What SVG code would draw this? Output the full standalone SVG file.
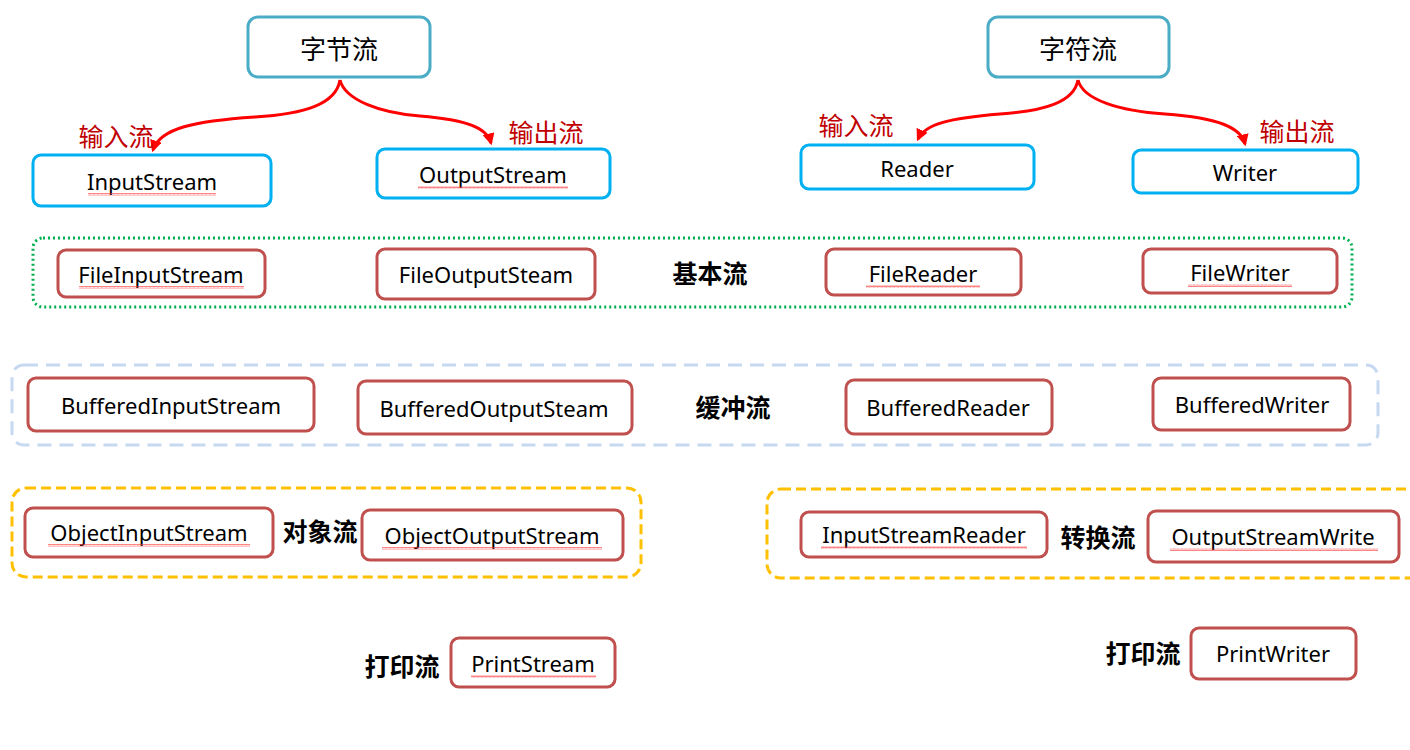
<svg xmlns="http://www.w3.org/2000/svg" width="1410" height="750" viewBox="0 0 1410 750">
<style>
.top{fill:#fff;stroke:#4bacc6;stroke-width:3}
.cls{fill:#fff;stroke:#00b0f0;stroke-width:3}
.sub{fill:#fff;stroke:#c0504d;stroke-width:3}
.t{font-family:"Noto Sans","Noto Sans CJK SC",sans-serif;font-size:22px;fill:#000;text-anchor:middle;dominant-baseline:central}
.th{font-family:"Noto Sans CJK SC","Noto Sans",sans-serif;font-size:26px;fill:#000;text-anchor:middle;dominant-baseline:central}
.lab{font-family:"Noto Sans CJK SC",sans-serif;font-size:25px;fill:#c00000;text-anchor:middle;dominant-baseline:central}
.grp{font-family:"Noto Sans CJK SC",sans-serif;font-size:25px;font-weight:bold;fill:#000;text-anchor:middle;dominant-baseline:central}
.arr{fill:none;stroke:#ff0000;stroke-width:3;marker-end:url(#ah)}
.sq{fill:url(#wave)}
</style>
<defs>
<marker id="ah" viewBox="0 0 10 10" refX="8" refY="5" markerWidth="4" markerHeight="4" orient="auto" markerUnits="strokeWidth">
<path d="M0,0 L10,5 L0,10 z" fill="#ff0000"/>
</marker>
<pattern id="wave" width="4" height="3" patternUnits="userSpaceOnUse">
<path d="M0,2.5 L1,0.5 L2,2.5 L3,0.5 L4,2.5" fill="none" stroke="#ff3030" stroke-width="0.6"/>
</pattern>
</defs>
<rect width="1410" height="750" fill="#fff"/>

<g id="groups">
<rect id="g-basic" x="33" y="238" width="1319" height="69" rx="10" fill="none" stroke="#00b050" stroke-width="3" stroke-dasharray="2 3"/>
<rect id="g-buffer" x="12" y="365" width="1366" height="80" rx="12" fill="none" stroke="#c6d9f1" stroke-width="3" stroke-dasharray="14 8"/>
<rect id="g-object" x="12" y="488" width="629" height="89" rx="14" fill="none" stroke="#ffc000" stroke-width="3" stroke-dasharray="10 5"/>
<rect id="g-convert" x="767" y="489" width="660" height="89" rx="14" fill="none" stroke="#ffc000" stroke-width="3" stroke-dasharray="10 5"/>
</g>

<g id="connectors">
<path class="arr" d="M340,80 C336,104 305,114 255,117 C195,121 160,128 153,150"/>
<path class="arr" d="M340,80 C345,100 380,113 420,116 C468,120 487,128 491,143"/>
<path class="arr" d="M1078,80 C1074,102 1045,111 1000,114 C950,118 925,124 918,139"/>
<path class="arr" d="M1078,80 C1083,100 1120,111 1165,114 C1220,118 1241,128 1245,144"/>
</g>

<g id="labels">
<text class="lab" x="116" y="135">输入流</text>
<text class="lab" x="546" y="131">输出流</text>
<text class="lab" x="856" y="124">输入流</text>
<text class="lab" x="1297" y="130">输出流</text>
<text class="grp" x="710" y="272">基本流</text>
<text class="grp" x="733" y="406">缓冲流</text>
<text class="grp" x="320" y="530">对象流</text>
<text class="grp" x="1098" y="536">转换流</text>
<text class="grp" x="402" y="665">打印流</text>
<text class="grp" x="1143" y="652">打印流</text>
</g>

<g id="n-byte"><rect class="top" x="248" y="17" width="182" height="60" rx="10"/><text class="th" x="339" y="47">字节流</text></g>
<g id="n-char"><rect class="top" x="988" y="17" width="181" height="60" rx="10"/><text class="th" x="1078" y="47">字符流</text></g>

<g id="n-inputstream"><rect class="cls" x="33" y="155" width="238" height="51" rx="8"/><text class="t" x="152" y="181">InputStream</text><rect class="sq" x="88" y="193" width="128" height="3"/></g>
<g id="n-outputstream"><rect class="cls" x="377" y="149" width="233" height="49" rx="8"/><text class="t" x="493" y="174">OutputStream</text><rect class="sq" x="418" y="186" width="150" height="3"/></g>
<g id="n-reader"><rect class="cls" x="801" y="145" width="233" height="44" rx="8"/><text class="t" x="917" y="168">Reader</text></g>
<g id="n-writer"><rect class="cls" x="1133" y="150" width="225" height="43" rx="8"/><text class="t" x="1245" y="172">Writer</text></g>

<g id="n-fis"><rect class="sub" x="58" y="250" width="207" height="47" rx="8"/><text class="t" x="161" y="274">FileInputStream</text><rect class="sq" x="79" y="286" width="165" height="3"/></g>
<g id="n-fos"><rect class="sub" x="377" y="249" width="218" height="50" rx="8"/><text class="t" x="486" y="274">FileOutputSteam</text></g>
<g id="n-fr"><rect class="sub" x="826" y="249" width="195" height="46" rx="8"/><text class="t" x="923" y="273">FileReader</text><rect class="sq" x="866" y="285" width="114" height="3"/></g>
<g id="n-fw"><rect class="sub" x="1143" y="249" width="194" height="44" rx="8"/><text class="t" x="1240" y="272">FileWriter</text><rect class="sq" x="1188" y="284" width="104" height="3"/></g>

<g id="n-bis"><rect class="sub" x="28" y="378" width="286" height="53" rx="8"/><text class="t" x="171" y="405">BufferedInputStream</text></g>
<g id="n-bos"><rect class="sub" x="358" y="381" width="274" height="53" rx="8"/><text class="t" x="494" y="408">BufferedOutputSteam</text></g>
<g id="n-br"><rect class="sub" x="846" y="380" width="206" height="54" rx="8"/><text class="t" x="948" y="407">BufferedReader</text></g>
<g id="n-bw"><rect class="sub" x="1153" y="378" width="197" height="52" rx="8"/><text class="t" x="1252" y="404">BufferedWriter</text></g>

<g id="n-ois"><rect class="sub" x="25" y="508" width="248" height="49" rx="8"/><text class="t" x="149" y="532">ObjectInputStream</text><rect class="sq" x="48" y="544" width="202" height="3"/></g>
<g id="n-oos"><rect class="sub" x="362" y="510" width="261" height="50" rx="8"/><text class="t" x="492" y="535">ObjectOutputStream</text><rect class="sq" x="382" y="547" width="220" height="3"/></g>
<g id="n-isr"><rect class="sub" x="801" y="512" width="246" height="45" rx="8"/><text class="t" x="924" y="534">InputStreamReader</text><rect class="sq" x="821" y="546" width="206" height="3"/></g>
<g id="n-osw"><rect class="sub" x="1148" y="511" width="251" height="51" rx="8"/><text class="t" x="1273" y="536">OutputStreamWrite</text><rect class="sq" x="1170" y="548" width="208" height="3"/></g>

<g id="n-ps"><rect class="sub" x="451" y="638" width="164" height="49" rx="8"/><text class="t" x="533" y="663">PrintStream</text><rect class="sq" x="471" y="675" width="125" height="3"/></g>
<g id="n-pw"><rect class="sub" x="1191" y="628" width="165" height="51" rx="8"/><text class="t" x="1273" y="653">PrintWriter</text></g>
</svg>
